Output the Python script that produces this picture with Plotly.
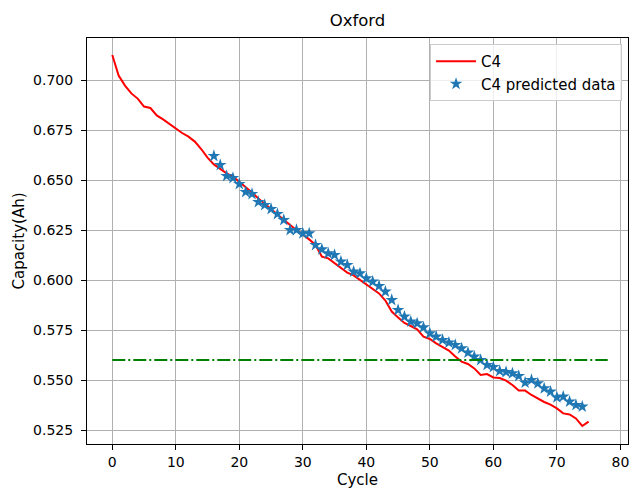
import plotly.graph_objects as go

# Measured capacity (C4)
cycles_c4 = list(range(0, 76))
capacity_c4 = [
    0.7125, 0.7022, 0.6972, 0.6933, 0.6907, 0.6867, 0.6860, 0.6823, 0.6803, 0.6780,
    0.6755, 0.6735, 0.6717, 0.6692, 0.6655, 0.6612, 0.6578, 0.6555, 0.6533, 0.6517,
    0.6492, 0.6467, 0.6438, 0.6408, 0.6383, 0.6355, 0.6328, 0.6300, 0.6275, 0.6250,
    0.6228, 0.6203, 0.6175, 0.6117, 0.6108, 0.6083, 0.6058, 0.6037, 0.6023, 0.6000,
    0.5975, 0.5953, 0.5933, 0.5897, 0.5842, 0.5813, 0.5785, 0.5770, 0.5753, 0.5717,
    0.5705, 0.5683, 0.5667, 0.5647, 0.5617, 0.5592, 0.5580, 0.5558, 0.5525, 0.5530,
    0.5513, 0.5510, 0.5497, 0.5475, 0.5447, 0.5447, 0.5425, 0.5407, 0.5390, 0.5377,
    0.5358, 0.5333, 0.5328, 0.5308, 0.5270, 0.5292,
]

# Predicted capacity
cycles_pred = list(range(16, 75))
capacity_pred = [
    0.6620, 0.6575, 0.6520, 0.6510, 0.6480, 0.6440, 0.6430, 0.6390, 0.6375, 0.6355,
    0.6330, 0.6300, 0.6250, 0.6250, 0.6233, 0.6233, 0.6175, 0.6153, 0.6133, 0.6125,
    0.6092, 0.6075, 0.6042, 0.6033, 0.6008, 0.5992, 0.5970, 0.5942, 0.5900, 0.5850,
    0.5817, 0.5792, 0.5783, 0.5763, 0.5733, 0.5717, 0.5700, 0.5687, 0.5675, 0.5658,
    0.5637, 0.5617, 0.5600, 0.5575, 0.5565, 0.5545, 0.5540, 0.5533, 0.5520, 0.5487,
    0.5500, 0.5483, 0.5458, 0.5442, 0.5413, 0.5417, 0.5392, 0.5375, 0.5367,
]

# End-of-life threshold
threshold_x = [0, 78]
threshold_y = [0.56, 0.56]

x_ticks = [0, 10, 20, 30, 40, 50, 60, 70, 80]
y_ticks = [0.525, 0.550, 0.575, 0.600, 0.625, 0.650, 0.675, 0.700]

fig = go.Figure()
fig.add_trace(go.Scatter(
    x=cycles_c4, y=capacity_c4, mode="lines", name="C4",
    line=dict(color="red", width=2),
))
fig.add_trace(go.Scatter(
    x=cycles_pred, y=capacity_pred, mode="markers", name="C4 predicted data",
    marker=dict(symbol="star", size=9.5, color="#1f77b4", line=dict(width=0)),
))
fig.add_trace(go.Scatter(
    x=threshold_x, y=threshold_y, mode="lines", showlegend=False,
    line=dict(color="green", width=2, dash="13px,3px,2px,3px"),
))

axis_common = dict(
    showline=True, linecolor="black", linewidth=1, mirror=True,
    ticks="outside", ticklen=5, tickwidth=1, tickcolor="black",
    showgrid=True, gridcolor="#b0b0b0", gridwidth=1, zeroline=False,
    automargin=False,
    tickfont=dict(family="DejaVu Sans", size=14, color="black"),
    title_font=dict(family="DejaVu Sans", size=15, color="black"),
)

fig.update_layout(
    width=643, height=489,
    margin=dict(l=87, r=15, t=38, b=45),
    paper_bgcolor="white", plot_bgcolor="white",
    title=dict(text="Oxford", x=0.556, xanchor="center", y=0.958, yanchor="middle",
               font=dict(family="DejaVu Sans", size=16.5, color="black")),
    xaxis=dict(range=[-3.98, 81.2], tickvals=x_ticks, title=dict(text="Cycle", standoff=10), **axis_common),
    yaxis=dict(range=[0.518, 0.721], tickvals=y_ticks, tickformat=".3f", ticklabelstandoff=5,
               title=dict(text="Capacity(Ah)", standoff=4), **axis_common),
    legend=dict(x=0.989, y=0.985, xanchor="right", yanchor="top",
                bgcolor="rgba(255,255,255,0.8)", bordercolor="#cccccc", borderwidth=1,
                font=dict(family="DejaVu Sans", size=15, color="black"),
                itemwidth=40, tracegroupgap=2),
    showlegend=True,
)

fig.write_html("out.html", config={"displayModeBar": False},
               post_script="document.body.style.margin='0px';document.body.style.overflow='hidden';")
